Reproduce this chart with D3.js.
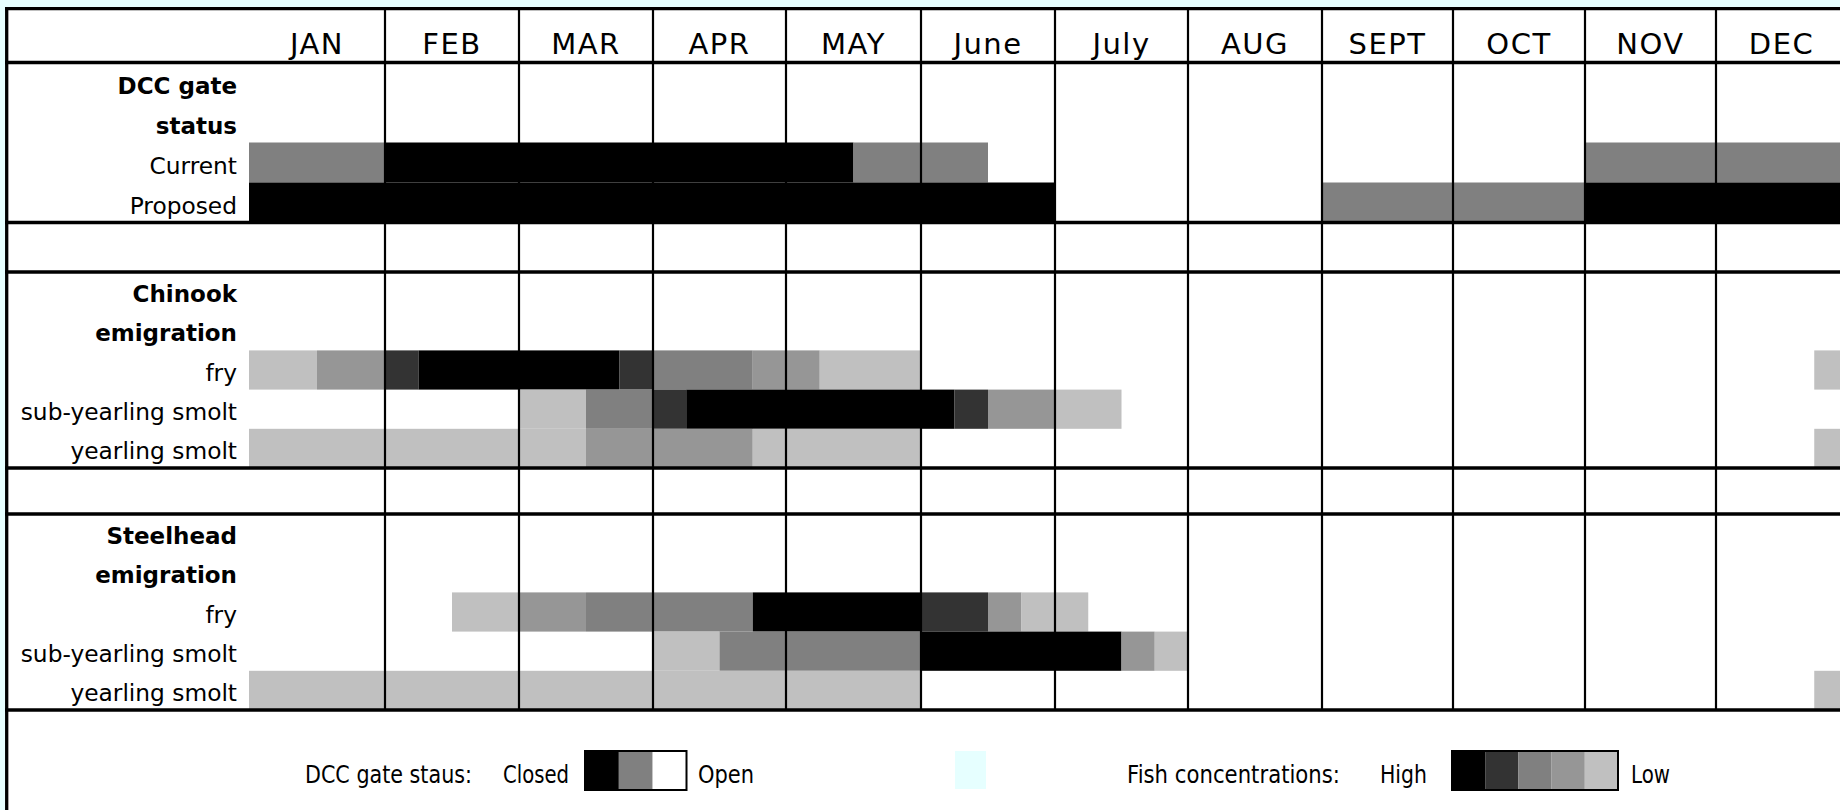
<!DOCTYPE html>
<html>
<head>
<meta charset="utf-8">
<script src="https://cdn.jsdelivr.net/npm/d3@7/dist/d3.min.js"></script>
<style>
  html, body { margin: 0; padding: 0; background: #e6ffff; }
  svg { display: block; }
  text { font-family: "DejaVu Sans", "Noto Sans", sans-serif; fill: #000; }
</style>
</head>
<body>
<svg id="chart" width="1840" height="810"></svg>
<script>
// ---------------- DATA ----------------
const months = ["JAN", "FEB", "MAR", "APR", "MAY", "June", "July", "AUG", "SEPT", "OCT", "NOV", "DEC"];

// Gate status segments: [fromMonth, toMonth, status]
const gateRowLabels = ["Current", "Proposed"];
const gateCurrent = [[0, 1, "partial"], [1, 4.5, "closed"], [4.5, 5.5, "partial"], [10, 12, "partial"]];
const gateProposed = [[0, 6, "closed"], [8, 10, "partial"], [10, 12, "closed"]];

// Fish concentration segments: [fromMonth, toMonth, level] (5 = high ... 1 = low)
const fishRowLabels = ["fry", "sub-yearling smolt", "yearling smolt"];
const chinookFry = [[0, 0.5, 1], [0.5, 1, 2], [1, 1.25, 4], [1.25, 2.75, 5], [2.75, 3, 4], [3, 3.75, 3], [3.75, 4.25, 2], [4.25, 5, 1], [11.75, 12, 1]];
const chinookSub = [[2, 2.5, 1], [2.5, 3, 3], [3, 3.25, 4], [3.25, 5.25, 5], [5.25, 5.5, 4], [5.5, 6, 2], [6, 6.5, 1]];
const chinookYearling = [[0, 2.5, 1], [2.5, 3.75, 2], [3.75, 5, 1], [11.75, 12, 1]];
const steelheadFry = [[1.5, 2, 1], [2, 2.5, 2], [2.5, 3.75, 3], [3.75, 5, 5], [5, 5.5, 4], [5.5, 5.75, 2], [5.75, 6.25, 1]];
const steelheadSub = [[3, 3.5, 1], [3.5, 5, 3], [5, 6.5, 5], [6.5, 6.75, 2], [6.75, 7, 1]];
const steelheadYearling = [[0, 5, 1], [11.75, 12, 1]];

// Legend entries
const gateLegend = ["closed", "partial", "open"];
const fishLegend = [5, 4, 3, 2, 1];

// ---------------- STYLE / LAYOUT ----------------
const gateColor = d3.scaleOrdinal().domain(["closed", "partial", "open"]).range(["#000000", "#808080", "#ffffff"]);
const fishColor = d3.scaleOrdinal().domain([5, 4, 3, 2, 1]).range(["#000000", "#333333", "#808080", "#969696", "#c0c0c0"]);

const colEdges = [249, 385, 519, 653, 786, 921, 1055, 1188, 1322, 1453, 1585, 1716, 1847];
const x = d3.scaleLinear().domain(d3.range(13)).range(colEdges);

const svg = d3.select("#chart");
const W = 1840, H = 810;
const labelRight = 237;

// white table area
svg.append("rect").attr("x", 6).attr("y", 8).attr("width", W - 6).attr("height", H - 8).attr("fill", "#ffffff");

const sections = [
  { title: ["DCC gate", "status"], labels: gateRowLabels, data: [gateCurrent, gateProposed], color: gateColor, range: [62.5, 222.5] },
  { title: ["Chinook", "emigration"], labels: fishRowLabels, data: [chinookFry, chinookSub, chinookYearling], color: fishColor, range: [272, 468] },
  { title: ["Steelhead", "emigration"], labels: fishRowLabels, data: [steelheadFry, steelheadSub, steelheadYearling], color: fishColor, range: [514, 710] }
];

const gBars = svg.append("g");
const gLabels = svg.append("g");

sections.forEach((sec, si) => {
  const rowKeys = ["t0", "t1"].concat(sec.labels.map((d, i) => "r" + i));
  const y = d3.scaleBand().domain(rowKeys).range(sec.range).padding(0);
  const bw = y.bandwidth();
  // titles
  sec.title.forEach((t, i) => {
    gLabels.append("text")
      .attr("x", labelRight).attr("y", y("t" + i) + bw - 9)
      .attr("text-anchor", "end")
      .style("font-size", "23px").style("font-weight", "bold")
      .text(t);
  });
  sec.labels.forEach((lab, i) => {
    gLabels.append("text")
      .attr("x", labelRight).attr("y", y("r" + i) + bw - 9)
      .attr("text-anchor", "end")
      .style("font-size", "23.3px")
      .text(lab);
    gBars.selectAll(null)
      .data(sec.data[i])
      .enter().append("rect")
      .attr("x", d => x(d[0]))
      .attr("width", d => x(d[1]) - x(d[0]))
      .attr("y", y("r" + i))
      .attr("height", bw)
      .attr("fill", d => sec.color(d[2]));
  });
});

// grid lines
const gGrid = svg.append("g").attr("stroke", "#000");
gGrid.selectAll("line.v")
  .data(d3.range(1, 12))
  .enter().append("line")
  .attr("x1", d => x(d)).attr("x2", d => x(d))
  .attr("y1", 8).attr("y2", 710)
  .attr("stroke-width", 2.2);

const hLines = [8.7, 62.5, 222.5, 272, 468, 514, 710];
gGrid.selectAll("line.h")
  .data(hLines)
  .enter().append("line")
  .attr("x1", 5).attr("x2", W)
  .attr("y1", d => d).attr("y2", d => d)
  .attr("stroke-width", 3.3);
gGrid.append("line").attr("x1", 6.7).attr("x2", 6.7).attr("y1", 7).attr("y2", H).attr("stroke-width", 3.3);

// month header
svg.append("g").selectAll("text")
  .data(months)
  .enter().append("text")
  .attr("x", (d, i) => x(i + 0.5))
  .attr("y", 54)
  .attr("text-anchor", "middle")
  .style("font-size", "29px")
  .style("letter-spacing", "1.5px")
  .text(d => d);

// ---------------- LEGEND ----------------
const lg = svg.append("g");
const legTop = 751, legH = 39, legBase = 783;
function legText(str, x0, len) {
  lg.append("text").attr("x", x0).attr("y", legBase)
    .attr("textLength", len).attr("lengthAdjust", "spacingAndGlyphs")
    .style("font-size", "25px").text(str);
}
legText("DCC gate staus:", 305, 167);
legText("Closed", 503, 66);
const gx = d3.scaleBand().domain(gateLegend).range([585, 686.5]);
lg.selectAll(null).data(gateLegend).enter().append("rect")
  .attr("x", d => gx(d)).attr("y", legTop).attr("width", gx.bandwidth()).attr("height", legH)
  .attr("fill", d => gateColor(d));
lg.append("rect").attr("x", 585).attr("y", legTop).attr("width", 101.5).attr("height", legH)
  .attr("fill", "none").attr("stroke", "#000").attr("stroke-width", 2);
legText("Open", 698, 56);

lg.append("rect").attr("x", 955).attr("y", legTop).attr("width", 31).attr("height", 38).attr("fill", "#e6ffff");

legText("Fish concentrations:", 1127, 213);
legText("High", 1380, 47);
const fx = d3.scaleBand().domain(fishLegend).range([1452, 1618]);
lg.selectAll(null).data(fishLegend).enter().append("rect")
  .attr("x", d => fx(d)).attr("y", legTop).attr("width", fx.bandwidth()).attr("height", legH)
  .attr("fill", d => fishColor(d));
lg.append("rect").attr("x", 1452).attr("y", legTop).attr("width", 166).attr("height", legH)
  .attr("fill", "none").attr("stroke", "#000").attr("stroke-width", 2);
legText("Low", 1631, 39);
</script>
</body>
</html>
